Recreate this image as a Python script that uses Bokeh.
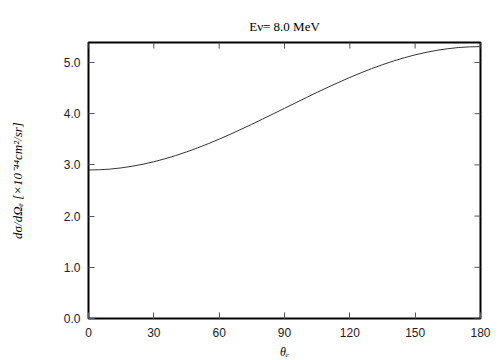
from bokeh.plotting import figure
from bokeh.models import Range1d, FixedTicker, LinearAxis, NumeralTickFormatter
from bokeh.embed import file_html
from bokeh.resources import INLINE
import math

theta = [0, 5, 10, 15, 20, 25, 30, 35, 40, 45, 50, 55, 60, 65, 70, 75, 80, 85, 90,
         95, 100, 105, 110, 115, 120, 125, 130, 135, 140, 145, 150, 155, 160, 165,
         170, 175, 180]
dsigma = [2.900, 2.905, 2.918, 2.941, 2.973, 3.013, 3.061, 3.118, 3.182, 3.253,
          3.330, 3.414, 3.503, 3.596, 3.693, 3.793, 3.896, 4.000, 4.105, 4.210,
          4.314, 4.417, 4.517, 4.614, 4.708, 4.796, 4.880, 4.957, 5.028, 5.092,
          5.149, 5.197, 5.237, 5.269, 5.292, 5.305, 5.310]
x_ticks = [0, 30, 60, 90, 120, 150, 180]
y_ticks = [0, 1, 2, 3, 4, 5]
y_max = 5.39

p = figure(width=504, height=360, output_backend="svg", toolbar_location=None,
           x_range=Range1d(0, 180), y_range=Range1d(0, y_max),
           min_border_left=88, min_border_right=24, min_border_top=42, min_border_bottom=42,
           x_axis_location=None, y_axis_location=None,
           title="Eν= 8.0 MeV")
p.frame_width = 392
p.frame_height = 276
p.grid.visible = False
p.outline_line_color = "black"
p.outline_line_width = 2
p.background_fill_color = "white"
p.border_fill_color = "white"

p.title.align = "center"
p.title.text_font = "Liberation Serif"
p.title.text_font_size = "13px"
p.title.text_font_style = "normal"
p.title.text_color = "black"
p.title.standoff = 17

serif = "Liberation Serif"

def style(ax):
    ax.axis_line_color = None
    ax.major_tick_in = 6
    ax.major_tick_out = 0
    ax.major_tick_line_color = "#555555"
    ax.major_tick_line_width = 1
    ax.minor_tick_line_color = None
    ax.major_label_text_font = "Liberation Sans"
    ax.major_label_text_font_size = "12px"
    ax.major_label_text_color = "#222222"
    ax.axis_label_text_font = serif
    ax.axis_label_text_font_size = "12px"
    ax.axis_label_text_font_style = "italic"
    ax.axis_label_text_color = "black"

xb = LinearAxis(ticker=FixedTicker(ticks=x_ticks), axis_label="θₑ")
style(xb)
xb.major_label_standoff = 9
xb.axis_label_standoff = 5
yl = LinearAxis(ticker=FixedTicker(ticks=y_ticks), formatter=NumeralTickFormatter(format="0.0"),
                axis_label="dσ/dΩₑ [×10⁻⁴⁴cm²/sr]")
style(yl)
yl.major_label_standoff = 8
yl.axis_label_standoff = 36
yl.axis_label_text_font_size = "13px"
p.add_layout(xb, "below")
p.add_layout(yl, "left")

p.line(theta, dsigma, line_color="#333333", line_width=1)

# mirrored inward ticks on the top and right edges
p.ray(x=x_ticks, y=[y_max] * len(x_ticks), length=6, length_units="screen",
      angle=-math.pi / 2, line_color="#555555", line_width=1)
p.ray(x=[180] * len(y_ticks), y=y_ticks, length=6, length_units="screen",
      angle=math.pi, line_color="#555555", line_width=1)

open("out.html", "w").write(file_html(p, INLINE))
